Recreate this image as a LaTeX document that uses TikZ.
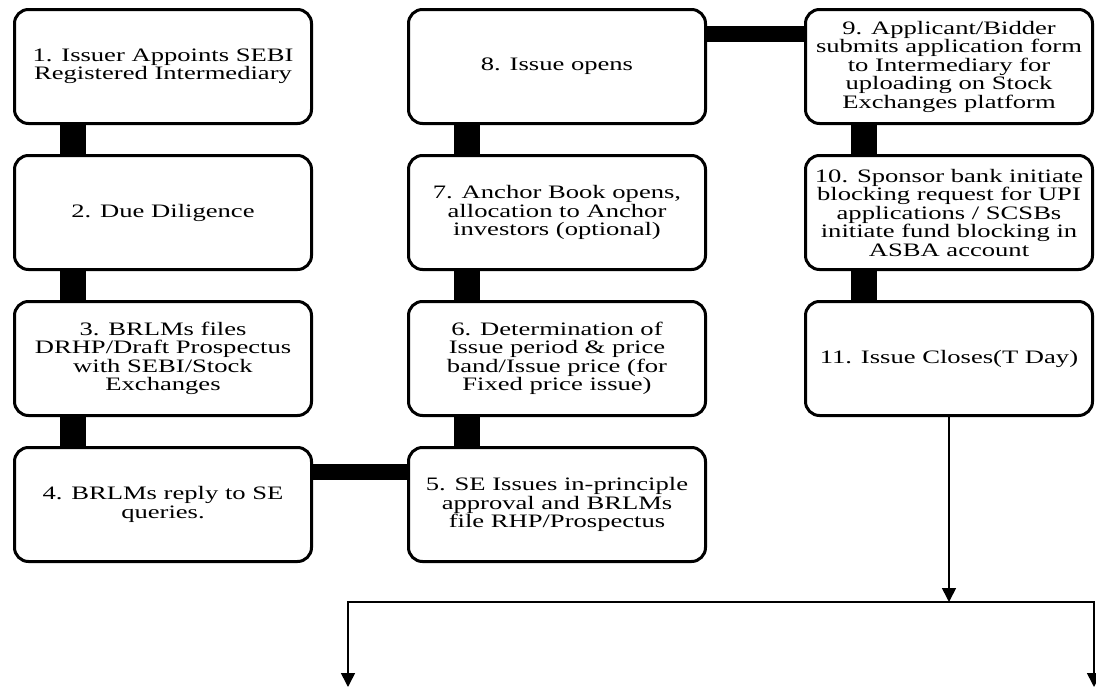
\documentclass[tikz,border=0pt]{standalone}
\usepackage{fontspec}
\setmainfont{Liberation Serif}[FakeStretch=1.4]
\usepackage{tikz}
\usetikzlibrary{positioning}
\usetikzlibrary{arrows.meta}

\newcommand{\stagefont}{\fontsize{19pt}{18.5pt}\selectfont}

\begin{document}
\begin{tikzpicture}[x = 1pt, y = 1pt, node distance = 146pt and 394pt, on grid,
                    stage/.style = {rectangle,
                                    rounded corners = 14pt,
                                    draw,
                                    black,
                                    line width = 3pt,
                                    text = black,
                                    align = center,
                                    font = \stagefont,
                                    minimum width = 297pt,
                                    minimum height = 114pt},
                    vlink/.style = {line width = 26pt, black},
                    hlink/.style = {line width = 16pt, black},
                    flow/.style  = {-{Triangle[width = 14pt, length = 14pt]},
                                    line width = 1.6pt, black}]

\useasboundingbox (0,0) rectangle (1096,-688);

\node[stage] (S1) at (163,-66.5) {1. Issuer Appoints SEBI\\Registered Intermediary};
\node[stage] (S2) [below = of S1] {2. Due Diligence};
\node[stage] (S3) [below = of S2] {3. BRLMs files\\DRHP/Draft Prospectus\\with SEBI/Stock\\Exchanges};
\node[stage] (S4) [below = of S3] {4. BRLMs reply to SE\\queries.};

\node[stage] (S5) [right = of S4] {5. SE Issues in-principle\\approval and BRLMs\\file RHP/Prospectus};
\node[stage] (S6) [above = of S5] {6. Determination of\\Issue period \& price\\band/Issue price (for\\Fixed price issue)};
\node[stage] (S7) [above = of S6] {7. Anchor Book opens,\\allocation to Anchor\\investors (optional)};
\node[stage] (S8) [above = of S7] {8. Issue opens};

\node[stage, minimum width = 287pt] (S9) [right = of S8, xshift = -2pt] {9. Applicant/Bidder\\submits application form\\to Intermediary for\\uploading on Stock\\Exchanges platform};
\node[stage, minimum width = 287pt] (S10) [below = of S9] {10. Sponsor bank initiate\\blocking request for UPI\\applications / SCSBs\\initiate fund blocking in\\ASBA account};
\node[stage, minimum width = 287pt] (S11) [below = of S10] {11. Issue Closes(T Day)};

% thick joints between the stages
\foreach \a/\b in {S1/S2, S2/S3, S3/S4, S8/S7, S7/S6, S6/S5, S9/S10, S10/S11}
  \draw[vlink] ([xshift = 60pt]\a.south west) -- ([xshift = 60pt]\b.north west);

\draw[hlink] ([yshift = -26pt]S4.north east) -- ([yshift = -26pt]S5.north west);
\draw[hlink] ([yshift = -26pt]S8.north east) -- ([yshift = -26pt]S9.north west);

% split after the issue closes
\coordinate (join) at ([yshift = -185pt]S11.south);
\coordinate (outL) at (348,-687);
\coordinate (outR) at (1094,-687);

\draw[flow] (S11.south) -- (join);
\draw[flow] (join) -| (outL);
\draw[flow] (join) -| (outR);

\end{tikzpicture}
\end{document}
